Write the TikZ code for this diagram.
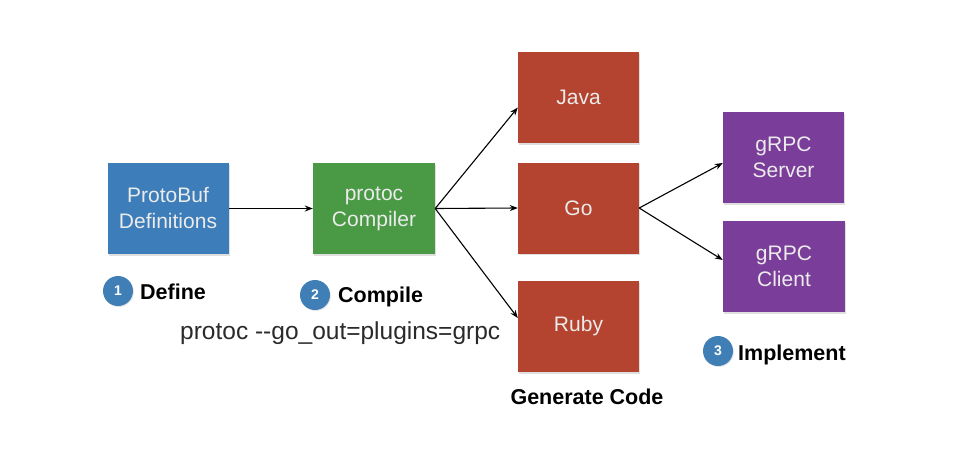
\documentclass[tikz,border=0pt]{standalone}
\usepackage{fontspec}
\setmainfont{Liberation Sans}
\usetikzlibrary{arrows.meta,shadows}
\definecolor{pbblue}{HTML}{3D7DBA}
\definecolor{cgreen}{HTML}{4A9A45}
\definecolor{gred}{HTML}{B4442F}
\definecolor{gpurple}{HTML}{7A3E9A}
\definecolor{cblue}{HTML}{3F7FB6}
\definecolor{dgray}{HTML}{2A2A2A}
\tikzset{
  box/.style={rectangle, minimum width=121pt, minimum height=91pt, inner sep=0pt,
    text=white!92!black, align=center, font=\fontsize{21}{26}\selectfont,
    drop shadow={opacity=0.25, shadow xshift=1pt, shadow yshift=-1.5pt}},
  arr/.style={-{Stealth[length=8pt,width=6pt]}, line width=1.1pt, black},
  num/.style={circle, fill=cblue, minimum size=30pt, inner sep=0pt, text=white,
    font=\bfseries\fontsize{14}{14}\selectfont,
    drop shadow={opacity=0.2, shadow xshift=0.8pt, shadow yshift=-1pt}},
  lbl/.style={font=\bfseries\fontsize{21.5}{21.5}\selectfont, text=black, anchor=west, inner sep=0pt},
}
\begin{document}
\begin{tikzpicture}[x=1pt,y=-1pt]
\useasboundingbox (0,0) rectangle (975,463);
\fill[white] (0,0) rectangle (975,463);
\node[box, fill=pbblue] (pb) at (168,208.5) {ProtoBuf\\Definitions};
\node[box, fill=cgreen, minimum width=122pt] (comp) at (374,208.5) {protoc\\Compiler};
\node[box, fill=gred] (java) at (578.5,97.5) {Java};
\node[box, fill=gred] (go) at (578.5,208) {Go};
\node[box, fill=gred] (ruby) at (578.5,326.5) {Ruby};
\node[box, fill=gpurple] (server) at (783.5,157.5) {gRPC\\Server};
\node[box, fill=gpurple, minimum width=122pt] (client) at (784,266.5) {gRPC\\Client};

\draw[arr] (pb.east) -- (comp.west);
\draw[arr] (comp.east) -- ([yshift=-10pt]java.west);
\draw[arr] (comp.east) -- (go.west);
\draw[arr] (comp.east) -- ([yshift=8.5pt]ruby.west);
\draw[arr] (go.east) -- ([yshift=-5.5pt]server.west);
\draw[arr] (go.east) -- ([yshift=6.5pt]client.west);

\node[num] (n1) at (118,291) {1};
\node[lbl] (l1) at (140,292) {Define};
\node[num] (n2) at (315,295) {2};
\node[lbl] (l2) at (338,297) {Compile};
\node[num] (n3) at (718,351) {3};
\node[lbl] (l3) at (738,355) {Implement};
\node[font=\bfseries\fontsize{21.5}{21.5}\selectfont, inner sep=0pt] (gen) at (587,397) {Generate Code};
\node[font=\fontsize{24.5}{24.5}\selectfont, text=dgray, anchor=west, inner sep=0pt] (cmd) at (180,333) {protoc {-}{-}go\_out=plugins=grpc};
\end{tikzpicture}
\end{document}
